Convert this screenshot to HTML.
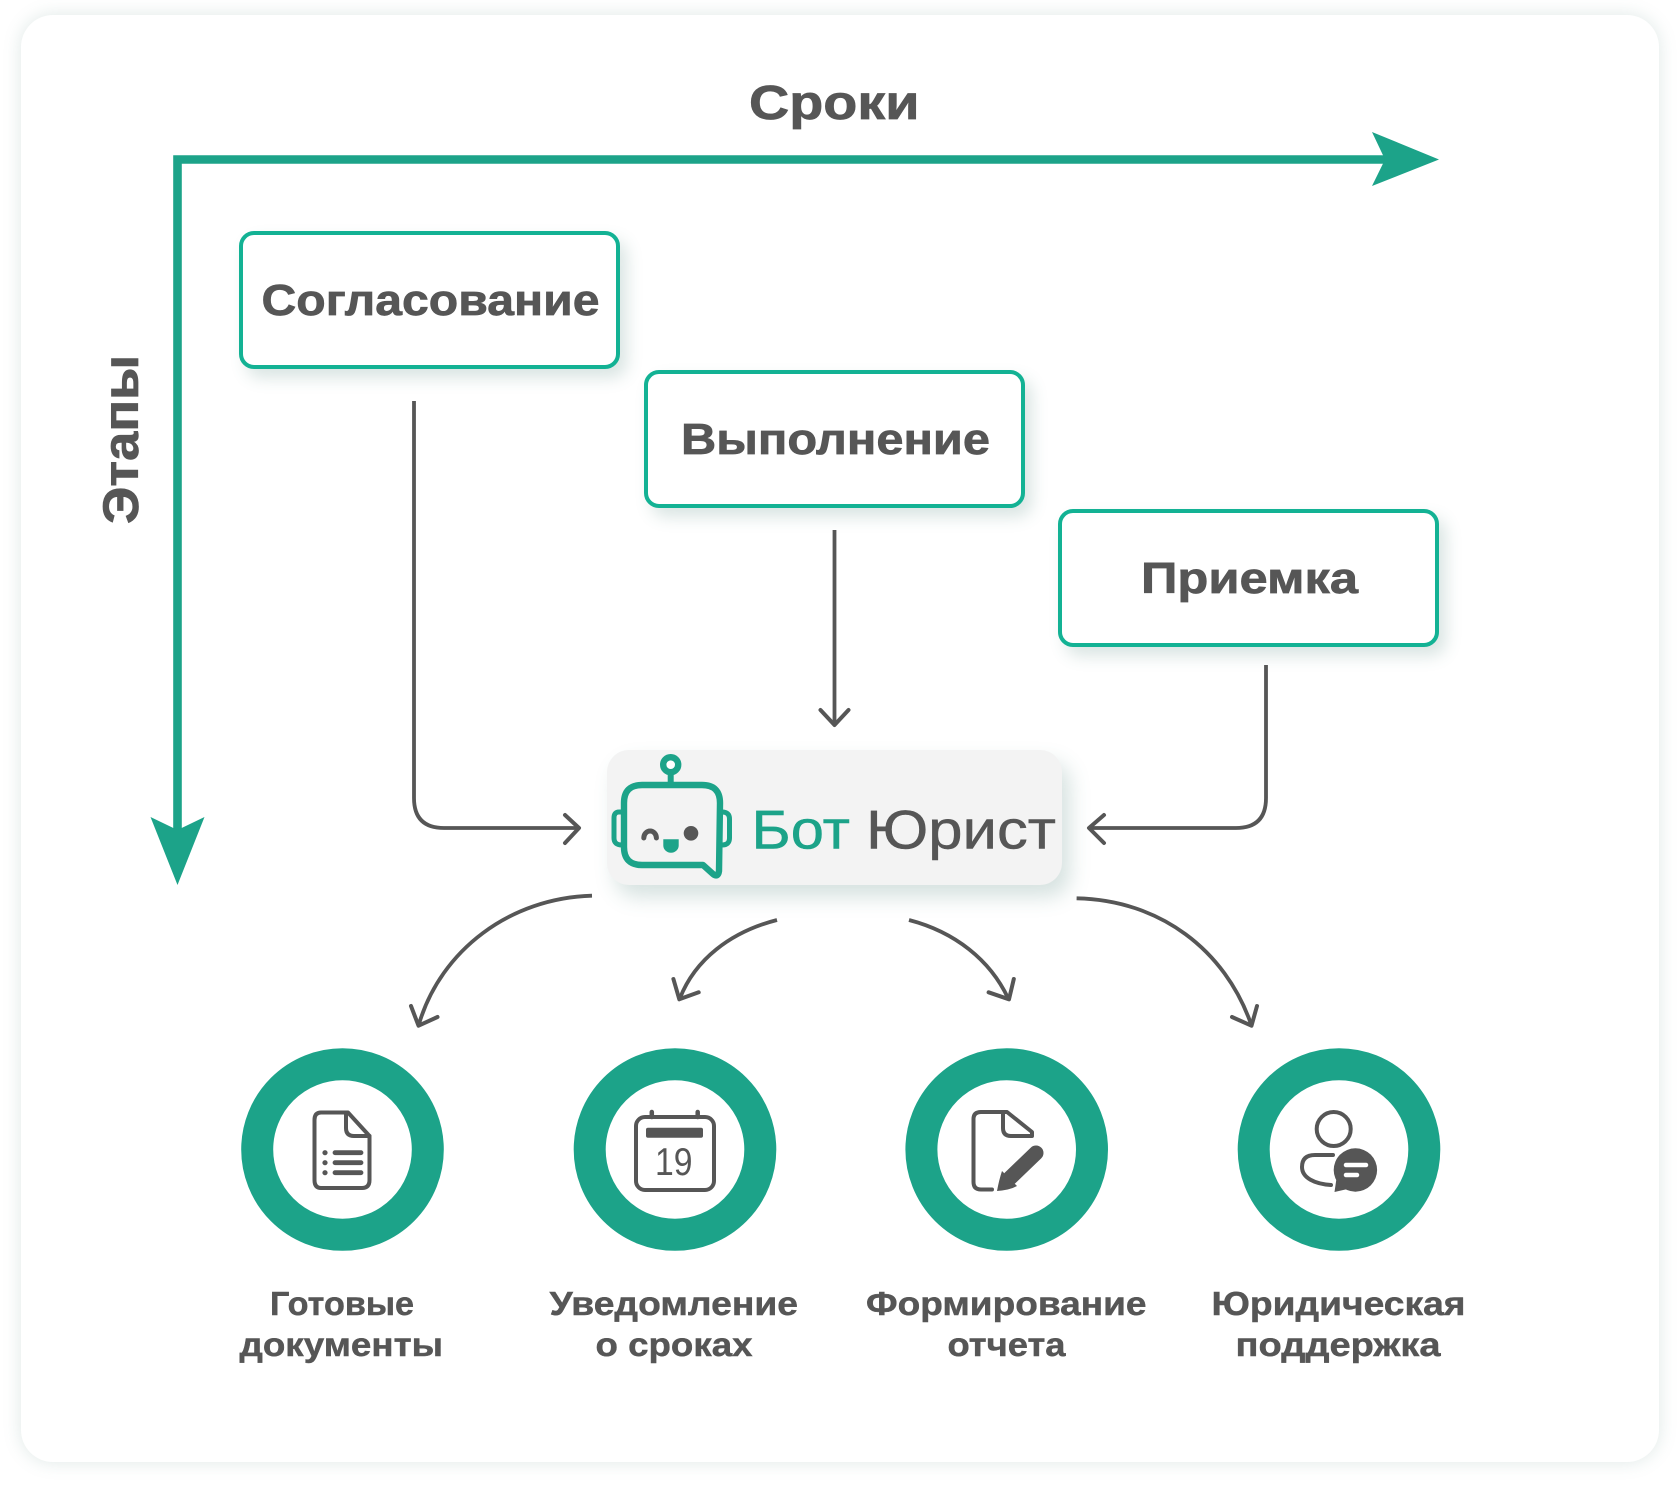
<!DOCTYPE html>
<html lang="ru"><head><meta charset="utf-8"><title>Бот Юрист</title>
<style>
html,body{margin:0;padding:0;background:#fff;width:1680px;height:1489px;overflow:hidden}
svg{display:block;position:absolute;left:0;top:0}
.card,.box,.bot{position:absolute;box-sizing:border-box}
.card{left:21px;top:15px;width:1638px;height:1447px;background:#fff;border-radius:32px;box-shadow:0 0 18px rgba(95,140,130,.2)}
.box{background:#fff;border:4.4px solid #13b294;border-radius:15px;box-shadow:7px 9px 16px rgba(70,125,115,.2)}
.bot{left:607px;top:750px;width:455px;height:135px;background:#f3f3f3;border-radius:22px;box-shadow:8px 12px 20px rgba(70,125,115,.22)}
text{font-family:"Liberation Sans",sans-serif;fill:#565656}
.b{font-weight:700;stroke:#565656;stroke-width:.7px}
.s{font-weight:700;stroke:#565656;stroke-width:.45px}
.line{fill:none;stroke:#565656;stroke-width:3.8;stroke-linecap:butt;stroke-linejoin:round}
.head{fill:none;stroke:#565656;stroke-width:4;stroke-linecap:round;stroke-linejoin:round}
.ic{fill:none;stroke:#565656;stroke-width:4;stroke-linecap:round;stroke-linejoin:round}
.ro{fill:none;stroke:#1ca389;stroke-width:6.4;stroke-linecap:round;stroke-linejoin:round}
.ring{fill:#fff;stroke:#1ca389;stroke-width:32}
</style></head><body>
<div class="card"></div>
<div class="box" style="left:239px;top:231px;width:381px;height:138px"></div>
<div class="box" style="left:643.500px;top:370px;width:381px;height:138px"></div>
<div class="box" style="left:1057.500px;top:509px;width:381.500px;height:138px"></div>
<div class="bot"></div>
<svg width="1680" height="1489" viewBox="0 0 1680 1489" xmlns="http://www.w3.org/2000/svg">
<!-- axes -->
<path d="M1385 159.500H177.500V830" fill="none" stroke="#1ca389" stroke-width="8.600"/>
<polygon points="1439,159.500 1372,132 1385,159.500 1372,186" fill="#1ca389"/>
<polygon points="177.500,885 150.500,817 177.500,830 204.500,817" fill="#1ca389"/>
<text class="b" x="749" y="119" font-size="48" textLength="170.500" lengthAdjust="spacingAndGlyphs">Сроки</text>
<text class="b" transform="translate(138 524) rotate(-90)" font-size="50" textLength="169" lengthAdjust="spacingAndGlyphs">Этапы</text>
<!-- box labels -->
<text class="b" x="261.500" y="315" font-size="44" textLength="338" lengthAdjust="spacingAndGlyphs">Согласование</text>
<text class="b" x="681" y="454" font-size="44" textLength="309" lengthAdjust="spacingAndGlyphs">Выполнение</text>
<text class="b" x="1141" y="593" font-size="44" textLength="217" lengthAdjust="spacingAndGlyphs">Приемка</text>
<!-- straight connectors -->
<path class="line" d="M414 401V798Q414 828 444 828H577"/>
<path class="head" d="M565 815L579 828L565 843"/>
<path class="line" d="M834.500 530V723"/>
<path class="head" d="M820.500 710L834.500 725L848.500 710"/>
<path class="line" d="M1266 665V798Q1266 828 1236 828H1090"/>
<path class="head" d="M1104 815L1089 828L1104 843"/>
<!-- curved connectors -->
<path class="line" d="M592 895.700C510 898 441 950 419 1024"/>
<path class="head" d="M411 1006L418.500 1025.700L437.500 1017"/>
<path class="line" d="M777 920C730 932 695 960 680 998"/>
<path class="head" d="M673.400 979L679.300 999.300L698.700 992.300"/>
<path class="line" d="M909 920C955 932 990 960 1008 998"/>
<path class="head" d="M1013.800 979L1009 999.300L988.600 992.300"/>
<path class="line" d="M1076.600 898.300C1160 900 1225 950 1251 1024"/>
<path class="head" d="M1257 1006L1251.500 1025.700L1232 1017"/>
<!-- robot -->
<circle cx="670.700" cy="764.700" r="7.500" fill="#fff" stroke="#1ca389" stroke-width="6.400"/>
<path d="M670.700 773V785" stroke="#1ca389" stroke-width="6" fill="none"/>
<path class="ro" d="M642 785H702Q720 785 720 803L719 871Q718 878 713 874L703 865H642Q624 865 624 847V803Q624 785 642 785Z"/>
<path d="M622 812H619Q614 812 614 818V838Q614 845 622 845M722 812Q729.500 812 729.500 819V838Q729.500 845 722 845" fill="none" stroke="#1ca389" stroke-width="5"/>
<path d="M643.800 838a6.300 7 0 0 1 12.600 0" fill="none" stroke="#565656" stroke-width="5" stroke-linecap="round"/>
<circle cx="691" cy="833.300" r="7.300" fill="#565656"/>
<path d="M663.300 839.300H678.700V845.500A7.700 7.200 0 0 1 663.300 845.500Z" fill="#1ca389"/>
<text x="751.500" y="848.500" font-size="55" textLength="98.500" lengthAdjust="spacingAndGlyphs" style="fill:#1ca389;stroke:#1ca389;stroke-width:.5px">Бот</text>
<text x="866" y="848.500" font-size="55" textLength="190" lengthAdjust="spacingAndGlyphs" style="stroke:#565656;stroke-width:.5px">Юрист</text>
<!-- rings -->
<circle class="ring" cx="342.500" cy="1149.500" r="85.300"/>
<circle class="ring" cx="675" cy="1149.500" r="85.300"/>
<circle class="ring" cx="1006.700" cy="1149.500" r="85.300"/>
<circle class="ring" cx="1339" cy="1149.500" r="85.300"/>
<!-- doc icon -->
<path class="ic" d="M346 1112.500H321Q314.500 1112.500 314.500 1120V1180Q314.500 1188 321 1188H362Q369.500 1188 369.500 1180V1136L348 1112.500Z"/>
<path class="ic" d="M346 1112.500V1128Q346 1136 354 1136H369.500"/>
<circle cx="325" cy="1152.700" r="2.600" fill="#565656"/><circle cx="325" cy="1162.700" r="2.600" fill="#565656"/><circle cx="325" cy="1172.700" r="2.600" fill="#565656"/>
<path d="M335 1152.700H361M335 1162.700H361M335 1172.700H361" fill="none" stroke="#565656" stroke-width="4.800" stroke-linecap="round"/>
<!-- calendar icon -->
<rect x="636" y="1117" width="78" height="73" rx="9" fill="none" stroke="#565656" stroke-width="4"/>
<path d="M651.800 1112V1117M697.700 1112V1117" stroke="#565656" stroke-width="4.500" stroke-linecap="round" fill="none"/>
<rect x="646" y="1127.700" width="57" height="10" rx="2" fill="#565656"/>
<text x="655" y="1175" font-size="39" textLength="37.500" lengthAdjust="spacingAndGlyphs">19</text>
<!-- edit-doc icon -->
<path class="ic" d="M992 1189.500H981Q973.500 1189.500 973.500 1182V1119Q973.500 1112 981 1112H1007L1032 1132V1136H1011Q1003 1136 1003 1128V1112"/>
<path d="M1036 1153L1010 1178" stroke="#565656" stroke-width="15" stroke-linecap="round" fill="none"/>
<path d="M1002 1171Q999 1180 997 1191Q1010 1190 1017 1186Z" fill="#565656"/>
<!-- person icon -->
<circle cx="1333.700" cy="1129" r="17" fill="none" stroke="#565656" stroke-width="4"/>
<path class="ic" d="M1333 1155H1315Q1302 1155 1302 1167C1302 1178 1315 1184 1331 1185"/>
<circle cx="1355.400" cy="1170" r="24" fill="#fff"/>
<circle cx="1355.400" cy="1170" r="21.700" fill="#565656"/>
<polygon points="1337,1175 1334.500,1192 1352,1188" fill="#565656"/>
<path d="M1346 1165H1366M1346 1175H1357" stroke="#fff" stroke-width="4.500" stroke-linecap="round" fill="none"/>
<!-- bottom labels -->
<text class="s" x="270" y="1315" font-size="33" textLength="144" lengthAdjust="spacingAndGlyphs">Готовые</text>
<text class="s" x="239.500" y="1356" font-size="33" textLength="203.500" lengthAdjust="spacingAndGlyphs">документы</text>
<text class="s" x="549.500" y="1315" font-size="33" textLength="248.500" lengthAdjust="spacingAndGlyphs">Уведомление</text>
<text class="s" x="595.500" y="1356" font-size="33" textLength="157" lengthAdjust="spacingAndGlyphs">о сроках</text>
<text class="s" x="866" y="1315" font-size="33" textLength="280.500" lengthAdjust="spacingAndGlyphs">Формирование</text>
<text class="s" x="947.500" y="1356" font-size="33" textLength="118" lengthAdjust="spacingAndGlyphs">отчета</text>
<text class="s" x="1211.500" y="1315" font-size="33" textLength="254" lengthAdjust="spacingAndGlyphs">Юридическая</text>
<text class="s" x="1235.500" y="1356" font-size="33" textLength="205" lengthAdjust="spacingAndGlyphs">поддержка</text>
</svg>
</body></html>
